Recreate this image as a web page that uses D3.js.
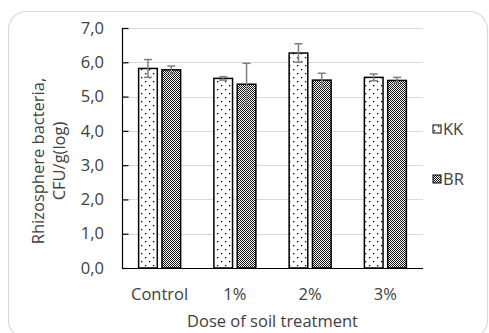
<!DOCTYPE html>
<html>
<head>
<meta charset="utf-8">
<script src="https://cdn.jsdelivr.net/npm/d3@7"></script>
<style>
  body { margin: 0; background: #fff; }
  svg text { font-family: "Open Sans", sans-serif; fill: #404040; font-size: 16.5px; }
</style>
</head>
<body>
<script>
"use strict";

///////////////////
// data
///////////////////
var doses = ["Control", "1%", "2%", "3%"];
var seriesNames = ["KK", "BR"];
var kkValues = [5.82, 5.53, 6.27, 5.56];
var kkErrors = [0.26, 0.05, 0.27, 0.10];
var brValues = [5.78, 5.36, 5.48, 5.47];
var brErrors = [0.11, 0.61, 0.20, 0.09];
var yTicks = [0, 1, 2, 3, 4, 5, 6, 7];

var width = 489, height = 333;
var plot = { left: 122, right: 423, top: 28, bottom: 268 };

var svg = d3.select("body").append("svg")
    .attr("width", width)
    .attr("height", height);

// patterns
var defs = svg.append("defs");
var pKK = defs.append("pattern")
    .attr("id", "pat-kk")
    .attr("patternUnits", "userSpaceOnUse")
    .attr("width", 8).attr("height", 8);
pKK.append("rect").attr("width", 8).attr("height", 8).attr("fill", "#fff");
pKK.append("rect").attr("x", 1).attr("y", 1).attr("width", 1.3).attr("height", 1.3).attr("fill", "#000");
pKK.append("rect").attr("x", 5).attr("y", 5).attr("width", 1.3).attr("height", 1.3).attr("fill", "#000");

var pBR = defs.append("pattern")
    .attr("id", "pat-br")
    .attr("patternUnits", "userSpaceOnUse")
    .attr("width", 2).attr("height", 2);
pBR.append("rect").attr("width", 2).attr("height", 2).attr("fill", "#fff");
pBR.append("rect").attr("x", 0).attr("y", 0).attr("width", 1).attr("height", 1).attr("fill", "#111");
pBR.append("rect").attr("x", 1).attr("y", 1).attr("width", 1).attr("height", 1).attr("fill", "#111");

var fills = ["url(#pat-kk)", "url(#pat-br)"];

// chart border
svg.append("rect")
    .attr("x", 8.5).attr("y", 11.5)
    .attr("width", 479).attr("height", 327)
    .attr("rx", 18).attr("ry", 18)
    .attr("fill", "none")
    .attr("stroke", "#d9d9d9")
    .attr("stroke-width", 1.2);

///////////////////
// scales
///////////////////
var x = d3.scaleBand()
    .domain(doses)
    .range([plot.left, plot.right])
    .paddingInner(0)
    .paddingOuter(0);

var inner = d3.scaleBand()
    .domain(seriesNames)
    .range([-21, 21])
    .paddingInner(0.2)
    .paddingOuter(0);

var y = d3.scaleLinear()
    .domain([0, 7])
    .range([plot.bottom, plot.top]);

// gridlines
svg.append("g")
    .selectAll("line")
    .data(yTicks.slice(1))
    .enter()
    .append("line")
    .attr("x1", plot.left)
    .attr("x2", plot.right)
    .attr("y1", function(d) { return Math.round(y(d)) + 0.5; })
    .attr("y2", function(d) { return Math.round(y(d)) + 0.5; })
    .attr("stroke", "#d9d9d9")
    .attr("stroke-width", 1);

// y axis (inside ticks)
var yAxis = svg.append("g")
    .attr("transform", "translate(" + (plot.left + 0.5) + ",0)")
    .call(d3.axisRight(y).tickValues(yTicks).tickSize(6).tickFormat(""));
yAxis.select(".domain").attr("stroke", "#000").attr("stroke-width", 1.2)
    .attr("d", "M0," + plot.top + "V" + plot.bottom);
yAxis.selectAll(".tick line").attr("stroke", "#000").attr("stroke-width", 1.2);

svg.append("g")
    .selectAll("text")
    .data(yTicks)
    .enter()
    .append("text")
    .attr("x", 104)
    .attr("y", function(d) { return y(d); })
    .attr("dy", "0.35em")
    .attr("text-anchor", "end")
    .text(function(d) { return d.toFixed(1).replace(".", ","); });

///////////////////
// bars
///////////////////
var rows = doses.map(function(d, i) {
    return [
        { dose: d, series: "KK", value: kkValues[i], err: kkErrors[i], fill: fills[0] },
        { dose: d, series: "BR", value: brValues[i], err: brErrors[i], fill: fills[1] }
    ];
});
var flat = d3.merge(rows);

function barX(d) {
    return x(d.dose) + x.bandwidth() / 2 + inner(d.series);
}

svg.append("g")
    .selectAll("rect")
    .data(flat)
    .enter()
    .append("rect")
    .attr("x", barX)
    .attr("y", function(d) { return y(d.value); })
    .attr("width", inner.bandwidth())
    .attr("height", function(d) { return y(0) - y(d.value); })
    .attr("fill", function(d) { return d.fill; })
    .attr("stroke", "#000")
    .attr("stroke-width", 1.5);

// x axis line
svg.append("line")
    .attr("x1", plot.left).attr("x2", plot.right)
    .attr("y1", plot.bottom + 0.5).attr("y2", plot.bottom + 0.5)
    .attr("stroke", "#000")
    .attr("stroke-width", 1.2);

// error bars
var eb = svg.append("g")
    .attr("stroke", "#7f7f7f")
    .attr("stroke-width", 1.5)
    .selectAll("g")
    .data(flat)
    .enter()
    .append("g")
    .attr("transform", function(d) {
        return "translate(" + (barX(d) + inner.bandwidth() / 2) + ",0)";
    });
eb.append("line")
    .attr("y1", function(d) { return y(d.value + d.err); })
    .attr("y2", function(d) { return y(d.value - d.err); });
eb.append("line")
    .attr("x1", -4).attr("x2", 4)
    .attr("y1", function(d) { return y(d.value + d.err); })
    .attr("y2", function(d) { return y(d.value + d.err); });
eb.append("line")
    .attr("x1", -4).attr("x2", 4)
    .attr("y1", function(d) { return y(d.value - d.err); })
    .attr("y2", function(d) { return y(d.value - d.err); });

// category labels
svg.append("g")
    .selectAll("text")
    .data(doses)
    .enter()
    .append("text")
    .attr("x", function(d) { return x(d) + x.bandwidth() / 2; })
    .attr("y", 300)
    .attr("text-anchor", "middle")
    .text(function(d) { return d; });

// axis titles
svg.append("text")
    .attr("x", (plot.left + plot.right) / 2)
    .attr("y", 327)
    .attr("text-anchor", "middle")
    .text("Dose of soil treatment");

var yTitle = svg.append("text")
    .attr("transform", "translate(0,161) rotate(-90)")
    .attr("text-anchor", "middle");
yTitle.append("tspan").attr("x", 0).attr("y", 44).text("Rhizosphere bacteria,");
yTitle.append("tspan").attr("x", 0).attr("y", 65).text("CFU/g(log)");

///////////////////
// legend
///////////////////
var legendY = [129, 179];
var legend = svg.append("g")
    .selectAll("g")
    .data(seriesNames)
    .enter()
    .append("g")
    .attr("transform", function(d, i) { return "translate(433," + legendY[i] + ")"; });
legend.append("rect")
    .attr("x", 0).attr("y", -4)
    .attr("width", 8).attr("height", 8)
    .attr("fill", function(d, i) { return fills[i]; })
    .attr("stroke", "#000")
    .attr("stroke-width", 1);
legend.append("text")
    .attr("x", 10)
    .attr("y", 0)
    .attr("dy", "0.35em")
    .text(function(d) { return d; });
</script>
</body>
</html>
